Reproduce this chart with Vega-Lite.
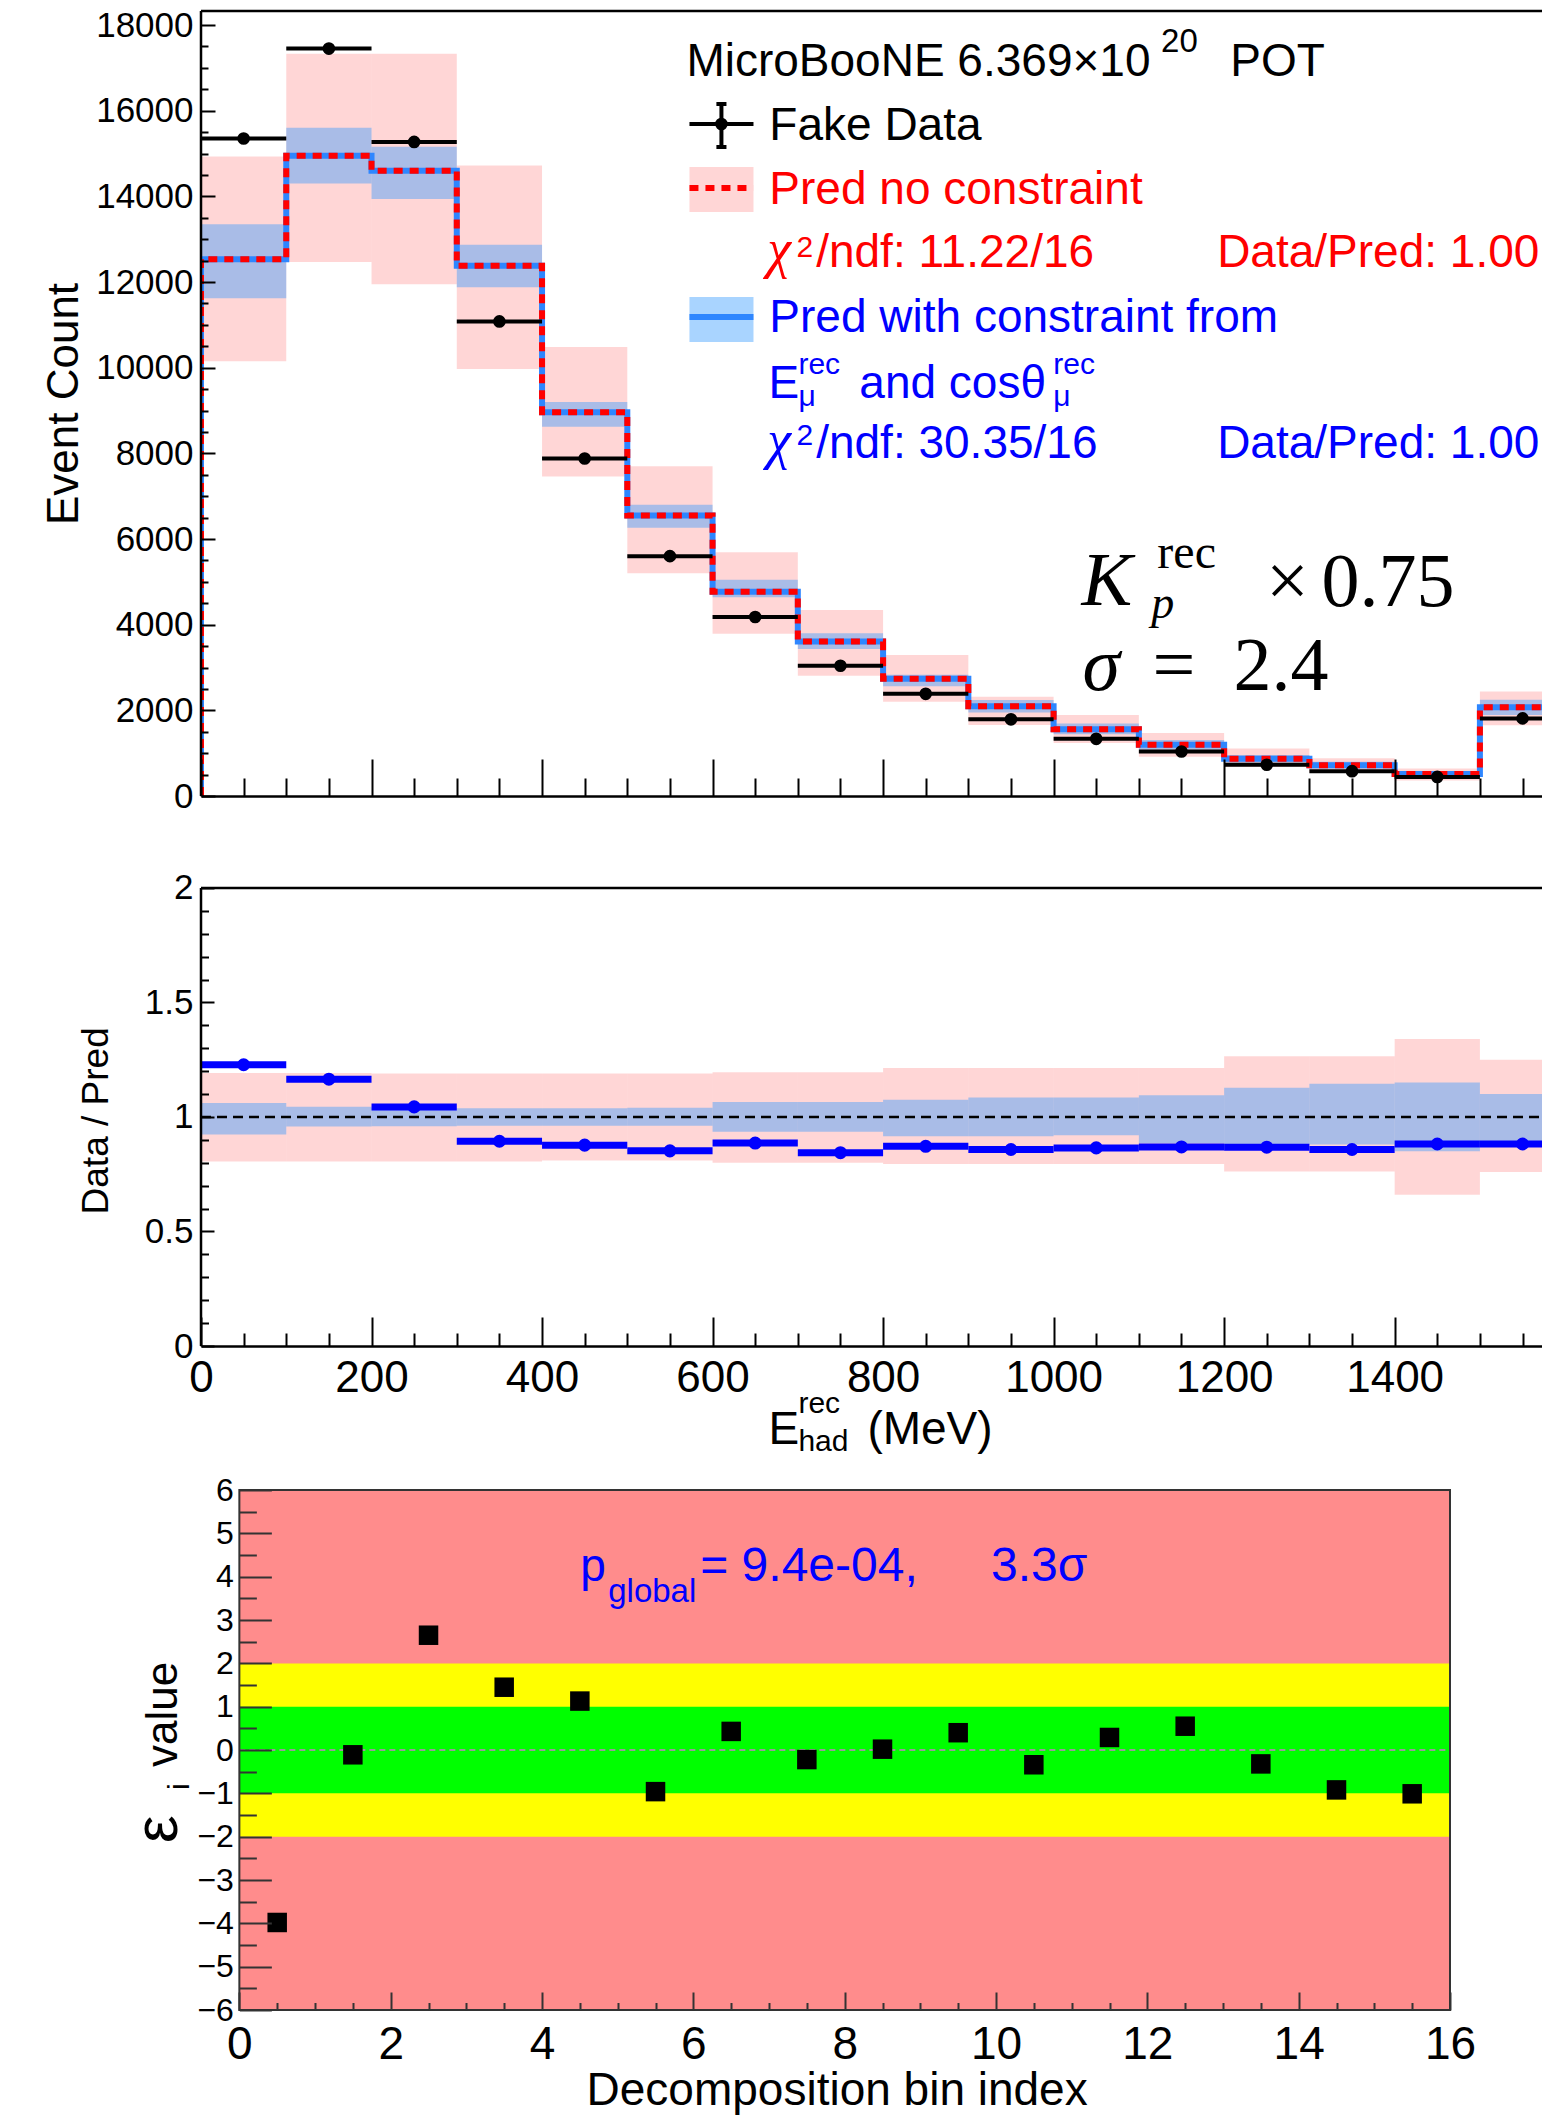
{
"$schema": "https://vega.github.io/schema/vega-lite/v6.json",
"padding": {"left": 43, "top": 0, "right": 0, "bottom": 0},
"background": "white",
"spacing": 5,
"config": {"view": {"stroke": null}, "font": "Liberation Sans", "axis": {"labelFont": "Liberation Sans", "labelColor": "#000", "domainColor": "#000", "tickColor": "#000", "grid": false, "labelFlush": false, "labelOverlap": false, "labelBound": false, "zindex": 1}},
"datasets": {
"bins": [
{"lo":0,"hi":100,"mid":50,"data":15350,"dLo":15226,"dHi":15474,"pred":12530,"redLo":10150,"redHi":14930,"blueLo":11620,"blueHi":13350,"ratio":1.228,"rRedLo":0.806,"rRedHi":1.192,"rBlueLo":0.923,"rBlueHi":1.061},
{"lo":100,"hi":200,"mid":150,"data":17450,"dLo":17318,"dHi":17582,"pred":14950,"redLo":12470,"redHi":17330,"blueLo":14300,"blueHi":15600,"ratio":1.165,"rRedLo":0.806,"rRedHi":1.192,"rBlueLo":0.958,"rBlueHi":1.045},
{"lo":200,"hi":300,"mid":250,"data":15270,"dLo":15146,"dHi":15394,"pred":14600,"redLo":11950,"redHi":17330,"blueLo":13940,"blueHi":15160,"ratio":1.044,"rRedLo":0.806,"rRedHi":1.19,"rBlueLo":0.96,"rBlueHi":1.04},
{"lo":300,"hi":400,"mid":350,"data":11080,"dLo":10975,"dHi":11185,"pred":12380,"redLo":9970,"redHi":14720,"blueLo":11880,"blueHi":12870,"ratio":0.894,"rRedLo":0.806,"rRedHi":1.19,"rBlueLo":0.962,"rBlueHi":1.038},
{"lo":400,"hi":500,"mid":450,"data":7880,"dLo":7791,"dHi":7969,"pred":8960,"redLo":7460,"redHi":10480,"blueLo":8620,"blueHi":9200,"ratio":0.877,"rRedLo":0.81,"rRedHi":1.19,"rBlueLo":0.962,"rBlueHi":1.038},
{"lo":500,"hi":600,"mid":550,"data":5600,"dLo":5525,"dHi":5675,"pred":6550,"redLo":5200,"redHi":7700,"blueLo":6260,"blueHi":6800,"ratio":0.852,"rRedLo":0.81,"rRedHi":1.19,"rBlueLo":0.962,"rBlueHi":1.04},
{"lo":600,"hi":700,"mid":650,"data":4180,"dLo":4115,"dHi":4245,"pred":4770,"redLo":3790,"redHi":5690,"blueLo":4640,"blueHi":5050,"ratio":0.886,"rRedLo":0.8,"rRedHi":1.195,"rBlueLo":0.935,"rBlueHi":1.065},
{"lo":700,"hi":800,"mid":750,"data":3040,"dLo":2985,"dHi":3095,"pred":3610,"redLo":2810,"redHi":4340,"blueLo":3430,"blueHi":3800,"ratio":0.844,"rRedLo":0.8,"rRedHi":1.195,"rBlueLo":0.935,"rBlueHi":1.065},
{"lo":800,"hi":900,"mid":850,"data":2385,"dLo":2336,"dHi":2434,"pred":2740,"redLo":2200,"redHi":3290,"blueLo":2560,"blueHi":2830,"ratio":0.872,"rRedLo":0.795,"rRedHi":1.214,"rBlueLo":0.916,"rBlueHi":1.075},
{"lo":900,"hi":1000,"mid":950,"data":1790,"dLo":1748,"dHi":1832,"pred":2095,"redLo":1660,"redHi":2320,"blueLo":1950,"blueHi":2240,"ratio":0.858,"rRedLo":0.795,"rRedHi":1.214,"rBlueLo":0.916,"rBlueHi":1.085},
{"lo":1000,"hi":1100,"mid":1050,"data":1335,"dLo":1298,"dHi":1372,"pred":1560,"redLo":1237,"redHi":1890,"blueLo":1440,"blueHi":1690,"ratio":0.865,"rRedLo":0.795,"rRedHi":1.214,"rBlueLo":0.92,"rBlueHi":1.085},
{"lo":1100,"hi":1200,"mid":1150,"data":1040,"dLo":1008,"dHi":1072,"pred":1195,"redLo":918,"redHi":1470,"blueLo":1080,"blueHi":1310,"ratio":0.869,"rRedLo":0.795,"rRedHi":1.214,"rBlueLo":0.885,"rBlueHi":1.095},
{"lo":1200,"hi":1300,"mid":1250,"data":730,"dLo":703,"dHi":757,"pred":868,"redLo":685,"redHi":1110,"blueLo":780,"blueHi":960,"ratio":0.868,"rRedLo":0.762,"rRedHi":1.265,"rBlueLo":0.88,"rBlueHi":1.128},
{"lo":1300,"hi":1400,"mid":1350,"data":580,"dLo":556,"dHi":604,"pred":716,"redLo":550,"redHi":880,"blueLo":640,"blueHi":800,"ratio":0.858,"rRedLo":0.762,"rRedHi":1.265,"rBlueLo":0.88,"rBlueHi":1.145},
{"lo":1400,"hi":1500,"mid":1450,"data":445,"dLo":424,"dHi":466,"pred":515,"redLo":360,"redHi":640,"blueLo":450,"blueHi":580,"ratio":0.882,"rRedLo":0.66,"rRedHi":1.34,"rBlueLo":0.85,"rBlueHi":1.15},
{"lo":1500,"hi":1600,"mid":1550,"data":1812,"dLo":1769,"dHi":1855,"pred":2070,"redLo":1650,"redHi":2440,"blueLo":1890,"blueHi":2250,"ratio":0.882,"rRedLo":0.76,"rRedHi":1.25,"rBlueLo":0.88,"rBlueHi":1.1}
],
"steps": [
{"k":0,"E":0,"count":0},{"k":1,"E":0,"count":12530},{"k":2,"E":100,"count":14950},{"k":3,"E":200,"count":14600},{"k":4,"E":300,"count":12380},{"k":5,"E":400,"count":8960},{"k":6,"E":500,"count":6550},{"k":7,"E":600,"count":4770},{"k":8,"E":700,"count":3610},{"k":9,"E":800,"count":2740},{"k":10,"E":900,"count":2095},{"k":11,"E":1000,"count":1560},{"k":12,"E":1100,"count":1195},{"k":13,"E":1200,"count":868},{"k":14,"E":1300,"count":716},{"k":15,"E":1400,"count":515},{"k":16,"E":1500,"count":2070},{"k":17,"E":1600,"count":2070}
],
"eps": [
{"idx":0.5,"eps":-3.98},{"idx":1.5,"eps":-0.11},{"idx":2.5,"eps":2.65},{"idx":3.5,"eps":1.45},{"idx":4.5,"eps":1.13},{"idx":5.5,"eps":-0.96},{"idx":6.5,"eps":0.43},{"idx":7.5,"eps":-0.22},{"idx":8.5,"eps":0.02},{"idx":9.5,"eps":0.40},{"idx":10.5,"eps":-0.34},{"idx":11.5,"eps":0.29},{"idx":12.5,"eps":0.55},{"idx":13.5,"eps":-0.32},{"idx":14.5,"eps":-0.92},{"idx":15.5,"eps":-1.01}
]
},
"vconcat": [
{
"width": 1342, "height": 796,
"data": {"name": "bins"},
"layer": [
{"mark": {"type": "rect", "fill": "#ff0000", "fillOpacity": 0.16, "clip": true},
 "encoding": {
  "x": {"field": "lo", "type": "quantitative", "title": null, "scale": {"domain": [0, 1574], "nice": false, "zero": false},
        "axis": {"values": [0,50,100,150,200,250,300,350,400,450,500,550,600,650,700,750,800,850,900,950,1000,1050,1100,1150,1200,1250,1300,1350,1400,1450,1500,1550], "tickCount": 200, "labels": false, "domain": true, "domainWidth": 2.5, "tickWidth": 2, "zindex": 1, "labelOverlap": false, "tickSize": {"condition": {"test": "datum.value % 200 === 0", "value": -37}, "value": -18}}},
  "x2": {"field": "hi"},
  "y": {"field": "redLo", "type": "quantitative", "title": null, "scale": {"domain": [0, 18584], "nice": false, "zero": false},
        "axis": {"values": [0,500,1000,1500,2000,2500,3000,3500,4000,4500,5000,5500,6000,6500,7000,7500,8000,8500,9000,9500,10000,10500,11000,11500,12000,12500,13000,13500,14000,14500,15000,15500,16000,16500,17000,17500,18000], "tickCount": 200, "domain": false, "tickWidth": 2, "zindex": 1, "labelOverlap": false, "tickSize": {"condition": {"test": "datum.value % 2000 === 0", "value": -14}, "value": -7}, "labelFontSize": 35, "labelPadding": 22, "labelExpr": "datum.value % 2000 === 0 ? format(datum.value, 'd') : ''"}},
  "y2": {"field": "redHi"}}},
{"mark": {"type": "rect", "fill": "#3399ff", "fillOpacity": 0.42, "clip": true},
 "encoding": {
  "x": {"field": "lo", "type": "quantitative", "title": null,
        "axis": {"values": [0,50,100,150,200,250,300,350,400,450,500,550,600,650,700,750,800,850,900,950,1000,1050,1100,1150,1200,1250,1300,1350,1400,1450,1500,1550], "tickCount": 200, "labels": false, "domain": true, "domainWidth": 2.5, "tickWidth": 2, "zindex": 1, "labelOverlap": false, "tickSize": {"condition": {"test": "datum.value % 200 === 0", "value": -37}, "value": -18}}},
  "x2": {"field": "hi"},
  "y": {"field": "blueLo", "type": "quantitative", "title": null,
        "axis": {"values": [0,500,1000,1500,2000,2500,3000,3500,4000,4500,5000,5500,6000,6500,7000,7500,8000,8500,9000,9500,10000,10500,11000,11500,12000,12500,13000,13500,14000,14500,15000,15500,16000,16500,17000,17500,18000], "tickCount": 200, "domain": false, "tickWidth": 2, "zindex": 1, "labelOverlap": false, "tickSize": {"condition": {"test": "datum.value % 2000 === 0", "value": -14}, "value": -7}, "labelFontSize": 35, "labelPadding": 22, "labelExpr": "datum.value % 2000 === 0 ? format(datum.value, 'd') : ''"}},
  "y2": {"field": "blueHi"}}},
{"data": {"name": "steps"}, "mark": {"type": "line", "interpolate": "step-after", "color": "#2e86ff", "strokeWidth": 6, "clip": true},
 "encoding": {
  "x": {"field": "E", "type": "quantitative", "title": null,
        "axis": {"values": [0,50,100,150,200,250,300,350,400,450,500,550,600,650,700,750,800,850,900,950,1000,1050,1100,1150,1200,1250,1300,1350,1400,1450,1500,1550], "tickCount": 200, "labels": false, "domain": true, "domainWidth": 2.5, "tickWidth": 2, "zindex": 1, "labelOverlap": false, "tickSize": {"condition": {"test": "datum.value % 200 === 0", "value": -37}, "value": -18}}},
  "y": {"field": "count", "type": "quantitative", "title": null,
        "axis": {"values": [0,500,1000,1500,2000,2500,3000,3500,4000,4500,5000,5500,6000,6500,7000,7500,8000,8500,9000,9500,10000,10500,11000,11500,12000,12500,13000,13500,14000,14500,15000,15500,16000,16500,17000,17500,18000], "tickCount": 200, "domain": false, "tickWidth": 2, "zindex": 1, "labelOverlap": false, "tickSize": {"condition": {"test": "datum.value % 2000 === 0", "value": -14}, "value": -7}, "labelFontSize": 35, "labelPadding": 22, "labelExpr": "datum.value % 2000 === 0 ? format(datum.value, 'd') : ''"}},
  "order": {"field": "k"}}},
{"data": {"name": "steps"}, "mark": {"type": "line", "interpolate": "step-after", "color": "#ff0000", "strokeWidth": 6, "strokeDash": [9, 7], "clip": true},
 "encoding": {
  "x": {"field": "E", "type": "quantitative", "title": null,
        "axis": {"values": [0,50,100,150,200,250,300,350,400,450,500,550,600,650,700,750,800,850,900,950,1000,1050,1100,1150,1200,1250,1300,1350,1400,1450,1500,1550], "tickCount": 200, "labels": false, "domain": true, "domainWidth": 2.5, "tickWidth": 2, "zindex": 1, "labelOverlap": false, "tickSize": {"condition": {"test": "datum.value % 200 === 0", "value": -37}, "value": -18}}},
  "y": {"field": "count", "type": "quantitative", "title": null,
        "axis": {"values": [0,500,1000,1500,2000,2500,3000,3500,4000,4500,5000,5500,6000,6500,7000,7500,8000,8500,9000,9500,10000,10500,11000,11500,12000,12500,13000,13500,14000,14500,15000,15500,16000,16500,17000,17500,18000], "tickCount": 200, "domain": false, "tickWidth": 2, "zindex": 1, "labelOverlap": false, "tickSize": {"condition": {"test": "datum.value % 2000 === 0", "value": -14}, "value": -7}, "labelFontSize": 35, "labelPadding": 22, "labelExpr": "datum.value % 2000 === 0 ? format(datum.value, 'd') : ''"}},
  "order": {"field": "k"}}},
{"mark": {"type": "rule", "color": "#000", "strokeWidth": 4, "clip": true},
 "encoding": {
  "x": {"field": "lo", "type": "quantitative", "title": null,
        "axis": {"values": [0,50,100,150,200,250,300,350,400,450,500,550,600,650,700,750,800,850,900,950,1000,1050,1100,1150,1200,1250,1300,1350,1400,1450,1500,1550], "tickCount": 200, "labels": false, "domain": true, "domainWidth": 2.5, "tickWidth": 2, "zindex": 1, "labelOverlap": false, "tickSize": {"condition": {"test": "datum.value % 200 === 0", "value": -37}, "value": -18}}},
  "x2": {"field": "hi"},
  "y": {"field": "data", "type": "quantitative", "title": null,
        "axis": {"values": [0,500,1000,1500,2000,2500,3000,3500,4000,4500,5000,5500,6000,6500,7000,7500,8000,8500,9000,9500,10000,10500,11000,11500,12000,12500,13000,13500,14000,14500,15000,15500,16000,16500,17000,17500,18000], "tickCount": 200, "domain": false, "tickWidth": 2, "zindex": 1, "labelOverlap": false, "tickSize": {"condition": {"test": "datum.value % 2000 === 0", "value": -14}, "value": -7}, "labelFontSize": 35, "labelPadding": 22, "labelExpr": "datum.value % 2000 === 0 ? format(datum.value, 'd') : ''"}}}},
{"mark": {"type": "rule", "color": "#000", "strokeWidth": 3, "clip": true},
 "encoding": {
  "x": {"field": "mid", "type": "quantitative", "title": null,
        "axis": {"values": [0,50,100,150,200,250,300,350,400,450,500,550,600,650,700,750,800,850,900,950,1000,1050,1100,1150,1200,1250,1300,1350,1400,1450,1500,1550], "tickCount": 200, "labels": false, "domain": true, "domainWidth": 2.5, "tickWidth": 2, "zindex": 1, "labelOverlap": false, "tickSize": {"condition": {"test": "datum.value % 200 === 0", "value": -37}, "value": -18}}},
  "y": {"field": "dLo", "type": "quantitative", "title": null,
        "axis": {"values": [0,500,1000,1500,2000,2500,3000,3500,4000,4500,5000,5500,6000,6500,7000,7500,8000,8500,9000,9500,10000,10500,11000,11500,12000,12500,13000,13500,14000,14500,15000,15500,16000,16500,17000,17500,18000], "tickCount": 200, "domain": false, "tickWidth": 2, "zindex": 1, "labelOverlap": false, "tickSize": {"condition": {"test": "datum.value % 2000 === 0", "value": -14}, "value": -7}, "labelFontSize": 35, "labelPadding": 22, "labelExpr": "datum.value % 2000 === 0 ? format(datum.value, 'd') : ''"}},
  "y2": {"field": "dHi"}}},
{"mark": {"type": "point", "shape": "circle", "filled": true, "color": "#000", "size": 160, "opacity": 1, "clip": true},
 "encoding": {
  "x": {"field": "mid", "type": "quantitative", "title": null,
        "axis": {"values": [0,50,100,150,200,250,300,350,400,450,500,550,600,650,700,750,800,850,900,950,1000,1050,1100,1150,1200,1250,1300,1350,1400,1450,1500,1550], "tickCount": 200, "labels": false, "domain": true, "domainWidth": 2.5, "tickWidth": 2, "zindex": 1, "labelOverlap": false, "tickSize": {"condition": {"test": "datum.value % 200 === 0", "value": -37}, "value": -18}}},
  "y": {"field": "data", "type": "quantitative", "title": null,
        "axis": {"values": [0,500,1000,1500,2000,2500,3000,3500,4000,4500,5000,5500,6000,6500,7000,7500,8000,8500,9000,9500,10000,10500,11000,11500,12000,12500,13000,13500,14000,14500,15000,15500,16000,16500,17000,17500,18000], "tickCount": 200, "domain": false, "tickWidth": 2, "zindex": 1, "labelOverlap": false, "tickSize": {"condition": {"test": "datum.value % 2000 === 0", "value": -14}, "value": -7}, "labelFontSize": 35, "labelPadding": 22, "labelExpr": "datum.value % 2000 === 0 ? format(datum.value, 'd') : ''"}}}},
{"data": {"values": [{}]}, "mark": {"type": "rule", "color": "#000", "strokeWidth": 2.5}, "encoding": {"x": {"datum": 0}, "y": {"datum": 0}, "y2": {"datum": 18330}}},
{"data": {"values": [{}]}, "mark": {"type": "rule", "color": "#000", "strokeWidth": 2.5}, "encoding": {"x": {"datum": 0}, "x2": {"datum": 1574}, "y": {"datum": 18330}}},
{"data": {"values": [{}]}, "mark": {"type": "text", "text": "MicroBooNE 6.369×10", "align": "left", "baseline": "alphabetic", "fontSize": 46, "color": "#000"}, "encoding": {"x": {"datum": 569.3}, "y": {"datum": 16809}}},
{"data": {"values": [{}]}, "mark": {"type": "text", "text": "20", "align": "left", "baseline": "alphabetic", "fontSize": 33, "color": "#000"}, "encoding": {"x": {"datum": 1126.0}, "y": {"datum": 17370}}},
{"data": {"values": [{}]}, "mark": {"type": "text", "text": "POT", "align": "left", "baseline": "alphabetic", "fontSize": 46, "color": "#000"}, "encoding": {"x": {"datum": 1207.3}, "y": {"datum": 16809}}},
{"data": {"values": [{}]}, "mark": {"type": "rule", "color": "#000", "strokeWidth": 4}, "encoding": {"x": {"datum": 572.9}, "x2": {"datum": 648.0}, "y": {"datum": 15689}}},
{"data": {"values": [{}]}, "mark": {"type": "rule", "color": "#000", "strokeWidth": 4}, "encoding": {"x": {"datum": 610.4}, "y": {"datum": 15152}, "y2": {"datum": 16156}}},
{"data": {"values": [{}]}, "mark": {"type": "rule", "color": "#000", "strokeWidth": 4}, "encoding": {"x": {"datum": 604.5}, "x2": {"datum": 616.3}, "y": {"datum": 16156}}},
{"data": {"values": [{}]}, "mark": {"type": "rule", "color": "#000", "strokeWidth": 4}, "encoding": {"x": {"datum": 604.5}, "x2": {"datum": 616.3}, "y": {"datum": 15152}}},
{"data": {"values": [{}]}, "mark": {"type": "point", "shape": "circle", "filled": true, "color": "#000", "size": 160, "opacity": 1}, "encoding": {"x": {"datum": 610.4}, "y": {"datum": 15689}}},
{"data": {"values": [{}]}, "mark": {"type": "text", "text": "Fake Data", "align": "left", "baseline": "alphabetic", "fontSize": 46, "color": "#000"}, "encoding": {"x": {"datum": 666.6}, "y": {"datum": 15315}}},
{"data": {"values": [{}]}, "mark": {"type": "rect", "fill": "#ff0000", "fillOpacity": 0.16}, "encoding": {"x": {"datum": 572.9}, "x2": {"datum": 648.0}, "y": {"datum": 13634}, "y2": {"datum": 14685}}},
{"data": {"values": [{}]}, "mark": {"type": "rule", "color": "#ff0000", "strokeWidth": 6, "strokeDash": [9, 7]}, "encoding": {"x": {"datum": 572.9}, "x2": {"datum": 648.0}, "y": {"datum": 14195}}},
{"data": {"values": [{}]}, "mark": {"type": "text", "text": "Pred no constraint", "align": "left", "baseline": "alphabetic", "fontSize": 46, "color": "#ff0000"}, "encoding": {"x": {"datum": 666.6}, "y": {"datum": 13821}}},
{"data": {"values": [{}]}, "mark": {"type": "text", "text": "χ", "align": "left", "baseline": "alphabetic", "fontSize": 54, "font": "Liberation Serif", "fontStyle": "italic", "color": "#ff0000"}, "encoding": {"x": {"datum": 664.0}, "y": {"datum": 12350}}},
{"data": {"values": [{}]}, "mark": {"type": "text", "text": "2", "align": "left", "baseline": "alphabetic", "fontSize": 30, "color": "#ff0000"}, "encoding": {"x": {"datum": 698.5}, "y": {"datum": 12584}}},
{"data": {"values": [{}]}, "mark": {"type": "text", "text": "/ndf: 11.22/16", "align": "left", "baseline": "alphabetic", "fontSize": 46, "color": "#ff0000"}, "encoding": {"x": {"datum": 721.5}, "y": {"datum": 12350}}},
{"data": {"values": [{}]}, "mark": {"type": "text", "text": "Data/Pred: 1.00", "align": "right", "baseline": "alphabetic", "fontSize": 46, "color": "#ff0000"}, "encoding": {"x": {"datum": 1569.7}, "y": {"datum": 12350}}},
{"data": {"values": [{}]}, "mark": {"type": "rect", "fill": "#3399ff", "fillOpacity": 0.42}, "encoding": {"x": {"datum": 572.9}, "x2": {"datum": 648.0}, "y": {"datum": 10599}, "y2": {"datum": 11650}}},
{"data": {"values": [{}]}, "mark": {"type": "rule", "color": "#2e86ff", "strokeWidth": 6}, "encoding": {"x": {"datum": 572.9}, "x2": {"datum": 648.0}, "y": {"datum": 11183}}},
{"data": {"values": [{}]}, "mark": {"type": "text", "text": "Pred with constraint from", "align": "left", "baseline": "alphabetic", "fontSize": 46, "color": "#0000ff"}, "encoding": {"x": {"datum": 666.6}, "y": {"datum": 10833}}},
{"data": {"values": [{}]}, "mark": {"type": "text", "text": "E", "align": "left", "baseline": "alphabetic", "fontSize": 46, "color": "#0000ff"}, "encoding": {"x": {"datum": 665.5}, "y": {"datum": 9292}}},
{"data": {"values": [{}]}, "mark": {"type": "text", "text": "rec", "align": "left", "baseline": "alphabetic", "fontSize": 30, "color": "#0000ff"}, "encoding": {"x": {"datum": 700.7}, "y": {"datum": 9852}}},
{"data": {"values": [{}]}, "mark": {"type": "text", "text": "μ", "align": "left", "baseline": "alphabetic", "fontSize": 30, "color": "#0000ff"}, "encoding": {"x": {"datum": 700.7}, "y": {"datum": 9114}}},
{"data": {"values": [{}]}, "mark": {"type": "text", "text": "and cosθ", "align": "left", "baseline": "alphabetic", "fontSize": 46, "color": "#0000ff"}, "encoding": {"x": {"datum": 772.1}, "y": {"datum": 9292}}},
{"data": {"values": [{}]}, "mark": {"type": "text", "text": "rec", "align": "left", "baseline": "alphabetic", "fontSize": 30, "color": "#0000ff"}, "encoding": {"x": {"datum": 999.7}, "y": {"datum": 9852}}},
{"data": {"values": [{}]}, "mark": {"type": "text", "text": "μ", "align": "left", "baseline": "alphabetic", "fontSize": 30, "color": "#0000ff"}, "encoding": {"x": {"datum": 999.7}, "y": {"datum": 9114}}},
{"data": {"values": [{}]}, "mark": {"type": "text", "text": "χ", "align": "left", "baseline": "alphabetic", "fontSize": 54, "font": "Liberation Serif", "fontStyle": "italic", "color": "#0000ff"}, "encoding": {"x": {"datum": 664.0}, "y": {"datum": 7891}}},
{"data": {"values": [{}]}, "mark": {"type": "text", "text": "2", "align": "left", "baseline": "alphabetic", "fontSize": 30, "color": "#0000ff"}, "encoding": {"x": {"datum": 698.5}, "y": {"datum": 8195}}},
{"data": {"values": [{}]}, "mark": {"type": "text", "text": "/ndf: 30.35/16", "align": "left", "baseline": "alphabetic", "fontSize": 46, "color": "#0000ff"}, "encoding": {"x": {"datum": 721.5}, "y": {"datum": 7891}}},
{"data": {"values": [{}]}, "mark": {"type": "text", "text": "Data/Pred: 1.00", "align": "right", "baseline": "alphabetic", "fontSize": 46, "color": "#0000ff"}, "encoding": {"x": {"datum": 1569.7}, "y": {"datum": 7891}}},
{"data": {"values": [{}]}, "mark": {"type": "text", "text": "K", "align": "left", "baseline": "alphabetic", "fontSize": 76, "font": "Liberation Serif", "fontStyle": "italic", "color": "#000"}, "encoding": {"x": {"datum": 1032.6}, "y": {"datum": 4459}}},
{"data": {"values": [{}]}, "mark": {"type": "text", "text": "rec", "align": "left", "baseline": "alphabetic", "fontSize": 48, "font": "Liberation Serif", "color": "#000"}, "encoding": {"x": {"datum": 1121.7}, "y": {"datum": 5323}}},
{"data": {"values": [{}]}, "mark": {"type": "text", "text": "p", "align": "left", "baseline": "alphabetic", "fontSize": 46, "font": "Liberation Serif", "fontStyle": "italic", "color": "#000"}, "encoding": {"x": {"datum": 1114.6}, "y": {"datum": 4156}}},
{"data": {"values": [{}]}, "mark": {"type": "text", "text": "×", "align": "left", "baseline": "alphabetic", "fontSize": 76, "font": "Liberation Serif", "color": "#000"}, "encoding": {"x": {"datum": 1249.0}, "y": {"datum": 4436}}},
{"data": {"values": [{}]}, "mark": {"type": "text", "text": "0.75", "align": "left", "baseline": "alphabetic", "fontSize": 76, "font": "Liberation Serif", "color": "#000"}, "encoding": {"x": {"datum": 1314.1}, "y": {"datum": 4436}}},
{"data": {"values": [{}]}, "mark": {"type": "text", "text": "σ", "align": "left", "baseline": "alphabetic", "fontSize": 76, "font": "Liberation Serif", "fontStyle": "italic", "color": "#000"}, "encoding": {"x": {"datum": 1033.8}, "y": {"datum": 2475}}},
{"data": {"values": [{}]}, "mark": {"type": "text", "text": "=", "align": "left", "baseline": "alphabetic", "fontSize": 76, "font": "Liberation Serif", "color": "#000"}, "encoding": {"x": {"datum": 1115.9}, "y": {"datum": 2475}}},
{"data": {"values": [{}]}, "mark": {"type": "text", "text": "2.4", "align": "left", "baseline": "alphabetic", "fontSize": 76, "font": "Liberation Serif", "color": "#000"}, "encoding": {"x": {"datum": 1211.0}, "y": {"datum": 2475}}},
{"data": {"values": [{}]}, "mark": {"type": "text", "text": "Event Count", "align": "center", "baseline": "alphabetic", "angle": 270, "fontSize": 44, "color": "#000"}, "encoding": {"x": {"datum": -143.8}, "y": {"datum": 9152}}}
]
},
{
"width": 1342, "height": 527,
"data": {"name": "bins"},
"layer": [
{"mark": {"type": "rect", "fill": "#ff0000", "fillOpacity": 0.16, "clip": true},
 "encoding": {
  "x": {"field": "lo", "type": "quantitative", "title": null, "scale": {"domain": [0, 1574], "nice": false, "zero": false},
        "axis": {"values": [0,50,100,150,200,250,300,350,400,450,500,550,600,650,700,750,800,850,900,950,1000,1050,1100,1150,1200,1250,1300,1350,1400,1450,1500,1550], "tickCount": 200, "domain": true, "domainWidth": 2.5, "tickWidth": 2, "zindex": 1, "labelOverlap": false, "tickSize": {"condition": {"test": "datum.value % 200 === 0", "value": -29}, "value": -13}, "labelFontSize": 44, "labelPadding": 39, "labelExpr": "datum.value % 200 === 0 ? format(datum.value, 'd') : ''"}},
  "x2": {"field": "hi"},
  "y": {"field": "rRedLo", "type": "quantitative", "title": null, "scale": {"domain": [0, 2.301], "nice": false, "zero": false},
        "axis": {"values": [0,0.1,0.2,0.3,0.4,0.5,0.6,0.7,0.8,0.9,1,1.1,1.2,1.3,1.4,1.5,1.6,1.7,1.8,1.9,2], "tickCount": 200, "domain": false, "tickWidth": 2, "zindex": 1, "labelOverlap": false, "tickSize": {"condition": {"test": "abs(datum.value*2 - round(datum.value*2)) < 0.000001", "value": -13}, "value": -7.5}, "labelFontSize": 35, "labelPadding": 21, "labelExpr": "abs(datum.value*2 - round(datum.value*2)) < 0.000001 ? format(datum.value, '~g') : ''"}},
  "y2": {"field": "rRedHi"}}},
{"mark": {"type": "rect", "fill": "#3399ff", "fillOpacity": 0.42, "clip": true},
 "encoding": {
  "x": {"field": "lo", "type": "quantitative", "title": null,
        "axis": {"values": [0,50,100,150,200,250,300,350,400,450,500,550,600,650,700,750,800,850,900,950,1000,1050,1100,1150,1200,1250,1300,1350,1400,1450,1500,1550], "tickCount": 200, "domain": true, "domainWidth": 2.5, "tickWidth": 2, "zindex": 1, "labelOverlap": false, "tickSize": {"condition": {"test": "datum.value % 200 === 0", "value": -29}, "value": -13}, "labelFontSize": 44, "labelPadding": 39, "labelExpr": "datum.value % 200 === 0 ? format(datum.value, 'd') : ''"}},
  "x2": {"field": "hi"},
  "y": {"field": "rBlueLo", "type": "quantitative", "title": null,
        "axis": {"values": [0,0.1,0.2,0.3,0.4,0.5,0.6,0.7,0.8,0.9,1,1.1,1.2,1.3,1.4,1.5,1.6,1.7,1.8,1.9,2], "tickCount": 200, "domain": false, "tickWidth": 2, "zindex": 1, "labelOverlap": false, "tickSize": {"condition": {"test": "abs(datum.value*2 - round(datum.value*2)) < 0.000001", "value": -13}, "value": -7.5}, "labelFontSize": 35, "labelPadding": 21, "labelExpr": "abs(datum.value*2 - round(datum.value*2)) < 0.000001 ? format(datum.value, '~g') : ''"}},
  "y2": {"field": "rBlueHi"}}},
{"data": {"values": [{}]}, "mark": {"type": "rule", "color": "#000", "strokeWidth": 2.5, "strokeDash": [10, 6]}, "encoding": {"x": {"datum": 0}, "x2": {"datum": 1574}, "y": {"datum": 1}}},
{"mark": {"type": "rule", "color": "#0000ff", "strokeWidth": 7, "clip": true},
 "encoding": {
  "x": {"field": "lo", "type": "quantitative", "title": null,
        "axis": {"values": [0,50,100,150,200,250,300,350,400,450,500,550,600,650,700,750,800,850,900,950,1000,1050,1100,1150,1200,1250,1300,1350,1400,1450,1500,1550], "tickCount": 200, "domain": true, "domainWidth": 2.5, "tickWidth": 2, "zindex": 1, "labelOverlap": false, "tickSize": {"condition": {"test": "datum.value % 200 === 0", "value": -29}, "value": -13}, "labelFontSize": 44, "labelPadding": 39, "labelExpr": "datum.value % 200 === 0 ? format(datum.value, 'd') : ''"}},
  "x2": {"field": "hi"},
  "y": {"field": "ratio", "type": "quantitative", "title": null,
        "axis": {"values": [0,0.1,0.2,0.3,0.4,0.5,0.6,0.7,0.8,0.9,1,1.1,1.2,1.3,1.4,1.5,1.6,1.7,1.8,1.9,2], "tickCount": 200, "domain": false, "tickWidth": 2, "zindex": 1, "labelOverlap": false, "tickSize": {"condition": {"test": "abs(datum.value*2 - round(datum.value*2)) < 0.000001", "value": -13}, "value": -7.5}, "labelFontSize": 35, "labelPadding": 21, "labelExpr": "abs(datum.value*2 - round(datum.value*2)) < 0.000001 ? format(datum.value, '~g') : ''"}}}},
{"mark": {"type": "point", "shape": "circle", "filled": true, "color": "#0000ff", "size": 170, "opacity": 1, "clip": true},
 "encoding": {
  "x": {"field": "mid", "type": "quantitative", "title": null,
        "axis": {"values": [0,50,100,150,200,250,300,350,400,450,500,550,600,650,700,750,800,850,900,950,1000,1050,1100,1150,1200,1250,1300,1350,1400,1450,1500,1550], "tickCount": 200, "domain": true, "domainWidth": 2.5, "tickWidth": 2, "zindex": 1, "labelOverlap": false, "tickSize": {"condition": {"test": "datum.value % 200 === 0", "value": -29}, "value": -13}, "labelFontSize": 44, "labelPadding": 39, "labelExpr": "datum.value % 200 === 0 ? format(datum.value, 'd') : ''"}},
  "y": {"field": "ratio", "type": "quantitative", "title": null,
        "axis": {"values": [0,0.1,0.2,0.3,0.4,0.5,0.6,0.7,0.8,0.9,1,1.1,1.2,1.3,1.4,1.5,1.6,1.7,1.8,1.9,2], "tickCount": 200, "domain": false, "tickWidth": 2, "zindex": 1, "labelOverlap": false, "tickSize": {"condition": {"test": "abs(datum.value*2 - round(datum.value*2)) < 0.000001", "value": -13}, "value": -7.5}, "labelFontSize": 35, "labelPadding": 21, "labelExpr": "abs(datum.value*2 - round(datum.value*2)) < 0.000001 ? format(datum.value, '~g') : ''"}}}},
{"data": {"values": [{}]}, "mark": {"type": "rule", "color": "#000", "strokeWidth": 2.5}, "encoding": {"x": {"datum": 0}, "y": {"datum": 0}, "y2": {"datum": 2}}},
{"data": {"values": [{}]}, "mark": {"type": "rule", "color": "#000", "strokeWidth": 2.5}, "encoding": {"x": {"datum": 0}, "x2": {"datum": 1574}, "y": {"datum": 2}}},
{"data": {"values": [{}]}, "mark": {"type": "text", "text": "E", "align": "left", "baseline": "alphabetic", "fontSize": 46, "color": "#000"}, "encoding": {"x": {"datum": 665.5}, "y": {"datum": -0.428}}},
{"data": {"values": [{}]}, "mark": {"type": "text", "text": "rec", "align": "left", "baseline": "alphabetic", "fontSize": 30, "color": "#000"}, "encoding": {"x": {"datum": 700.7}, "y": {"datum": -0.293}}},
{"data": {"values": [{}]}, "mark": {"type": "text", "text": "had", "align": "left", "baseline": "alphabetic", "fontSize": 30, "color": "#000"}, "encoding": {"x": {"datum": 700.7}, "y": {"datum": -0.459}}},
{"data": {"values": [{}]}, "mark": {"type": "text", "text": "(MeV)", "align": "left", "baseline": "alphabetic", "fontSize": 46, "color": "#000"}, "encoding": {"x": {"datum": 781.6}, "y": {"datum": -0.428}}},
{"data": {"values": [{}]}, "mark": {"type": "text", "text": "Data / Pred", "align": "center", "baseline": "alphabetic", "angle": 270, "fontSize": 37, "color": "#000"}, "encoding": {"x": {"datum": -108.6}, "y": {"datum": 0.983}}}
]
},
{
"width": 1249, "height": 547,
"data": {"name": "eps"},
"layer": [
{"data": {"values": [{}]}, "mark": {"type": "rect", "fill": "#ff8c8c"}, "encoding": {"x": {"datum": 0}, "x2": {"datum": 16}, "y": {"datum": -6}, "y2": {"datum": 6}}},
{"data": {"values": [{}]}, "mark": {"type": "rect", "fill": "#ffff00"}, "encoding": {"x": {"datum": 0}, "x2": {"datum": 16}, "y": {"datum": -2}, "y2": {"datum": 2}}},
{"data": {"values": [{}]}, "mark": {"type": "rect", "fill": "#00ff00"}, "encoding": {"x": {"datum": 0}, "x2": {"datum": 16}, "y": {"datum": -1}, "y2": {"datum": 1}}},
{"data": {"values": [{}]}, "mark": {"type": "rule", "color": "#999999", "strokeWidth": 2, "strokeDash": [6, 4]}, "encoding": {"x": {"datum": 0}, "x2": {"datum": 16}, "y": {"datum": 0}}},
{"data": {"values": [{}]}, "mark": {"type": "rect", "fillOpacity": 0, "stroke": "#333333", "strokeWidth": 2}, "encoding": {"x": {"datum": 0}, "x2": {"datum": 16}, "y": {"datum": -6}, "y2": {"datum": 6}}},
{"mark": {"type": "point", "shape": "square", "filled": true, "color": "#000", "size": 380, "opacity": 1},
 "encoding": {
  "x": {"field": "idx", "type": "quantitative", "title": null, "scale": {"domain": [-0.507, 16], "nice": false, "zero": false},
        "axis": {"values": [0,0.5,1,1.5,2,2.5,3,3.5,4,4.5,5,5.5,6,6.5,7,7.5,8,8.5,9,9.5,10,10.5,11,11.5,12,12.5,13,13.5,14,14.5,15,15.5,16], "tickCount": 200, "domain": false, "tickWidth": 2, "tickColor": "#333333", "zindex": 1, "labelOverlap": false, "tickSize": {"condition": {"test": "datum.value % 2 === 0", "value": -18}, "value": -7.5}, "labelFontSize": 46, "labelPadding": 30, "labelExpr": "datum.value % 2 === 0 ? format(datum.value, 'd') : ''"}},
  "y": {"field": "eps", "type": "quantitative", "title": null, "scale": {"domain": [-6, 6.625], "nice": false, "zero": false},
        "axis": {"values": [-6,-5.5,-5,-4.5,-4,-3.5,-3,-2.5,-2,-1.5,-1,-0.5,0,0.5,1,1.5,2,2.5,3,3.5,4,4.5,5,5.5,6], "tickCount": 200, "offset": -38.36, "domain": false, "tickWidth": 2, "tickColor": "#333333", "zindex": 1, "labelOverlap": false, "tickSize": {"condition": {"test": "datum.value % 1 === 0", "value": -32}, "value": -17}, "labelFontSize": 32, "labelPadding": 38, "labelExpr": "datum.value % 1 === 0 ? format(datum.value, 'd') : ''"}}}},
{"data": {"values": [{}]}, "mark": {"type": "text", "text": "p", "align": "left", "baseline": "alphabetic", "fontSize": 46, "color": "#0000ff"}, "encoding": {"x": {"datum": 4.505}, "y": {"datum": 3.9}}},
{"data": {"values": [{}]}, "mark": {"type": "text", "text": "global", "align": "left", "baseline": "alphabetic", "fontSize": 33, "color": "#0000ff"}, "encoding": {"x": {"datum": 4.875}, "y": {"datum": 3.416}}},
{"data": {"values": [{}]}, "mark": {"type": "text", "text": "= 9.4e-04,", "align": "left", "baseline": "alphabetic", "fontSize": 48, "color": "#0000ff"}, "encoding": {"x": {"datum": 6.091}, "y": {"datum": 3.9}}},
{"data": {"values": [{}]}, "mark": {"type": "text", "text": "3.3σ", "align": "left", "baseline": "alphabetic", "fontSize": 48, "color": "#0000ff"}, "encoding": {"x": {"datum": 9.935}, "y": {"datum": 3.9}}},
{"data": {"values": [{}]}, "mark": {"type": "text", "text": "value", "align": "left", "baseline": "alphabetic", "angle": 270, "fontSize": 44, "color": "#000"}, "encoding": {"x": {"datum": -0.819}, "y": {"datum": -0.392}}},
{"data": {"values": [{}]}, "mark": {"type": "text", "text": "ε", "align": "left", "baseline": "alphabetic", "angle": 270, "fontSize": 62, "color": "#000"}, "encoding": {"x": {"datum": -0.819}, "y": {"datum": -2.146}}},
{"data": {"values": [{}]}, "mark": {"type": "text", "text": "i", "align": "left", "baseline": "alphabetic", "angle": 270, "fontSize": 30, "color": "#000"}, "encoding": {"x": {"datum": -0.66}, "y": {"datum": -0.923}}},
{"data": {"values": [{}]}, "mark": {"type": "text", "text": "Decomposition bin index", "align": "center", "baseline": "alphabetic", "fontSize": 46, "color": "#000"}, "encoding": {"x": {"datum": 7.9}, "y": {"datum": -8.2}}}
]
}
]
}
